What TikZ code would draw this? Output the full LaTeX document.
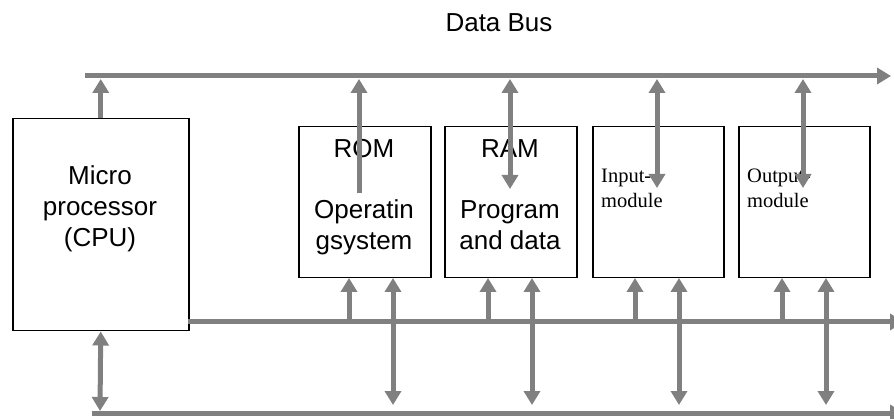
\documentclass[tikz,border=0pt]{standalone}
\usepackage{fontspec}
\setmainfont{Liberation Sans}
\newfontfamily\tnr{Liberation Serif}
\usetikzlibrary{arrows.meta}
\definecolor{busgray}{RGB}{128,128,128}
\begin{document}
\begin{tikzpicture}[x=1pt,y=-1pt,
  box/.style={draw=black,line width=1.5pt,fill=white,inner sep=0pt,anchor=north west},
  lbl/.style={inner sep=0pt,anchor=base,font=\fontsize{26}{31}\selectfont,align=center},
  slbl/.style={inner sep=0pt,anchor=base west,font=\tnr\fontsize{20.5}{25}\selectfont,align=left},
  bus/.style={draw=busgray,line width=5pt},
  tipend/.style={bus,-{Triangle[width=16pt,length=14pt]}},
  tipboth/.style={bus,{Triangle[width=16pt,length=14pt]}-{Triangle[width=16pt,length=14pt]}}]
\clip (0,0) rectangle (894,419);
\fill[white] (0,0) rectangle (894,419);
% boxes
\node[box,minimum width=176pt,minimum height=212pt] (cpu) at (12,118) {};
\node[box,minimum width=132pt,minimum height=151pt] (rom) at (298,126) {};
\node[box,minimum width=132pt,minimum height=151pt] (ram) at (444,126) {};
\node[box,minimum width=131pt,minimum height=151pt] (inm) at (592,126) {};
\node[box,minimum width=131pt,minimum height=151pt] (outm) at (738,126) {};
% labels (base anchor = baseline of the last line)
\node[lbl] (title) at (499,32) {Data Bus};
\node[lbl] (cputxt) at (100,247) {Micro\\processor\\(CPU)};
\node[lbl] (romtxt) at (364,158) {ROM};
\node[lbl] (ostxt) at (364,250) {Operatin\\gsystem};
\node[lbl] (ramtxt) at (510,158) {RAM};
\node[lbl] (pdtxt) at (510,250) {Program\\and data};
\node[slbl] (intxt) at (601,208) {Input-\\module};
\node[slbl] (outtxt) at (747,208) {Output-\\module};
% bus coordinates
\coordinate (dbL) at (85,76);
\coordinate (dbR) at (891,76);
\coordinate (abL) at (188,322);
\coordinate (abR) at (904,322);
\coordinate (cbL) at (92,413);
\coordinate (cbR) at (904,413);
\coordinate (dbtip) at (0,79);
\coordinate (abtip) at (0,322);
\coordinate (cbtip) at (0,405);
% buses
\draw[tipend] (dbL) -- (dbR);
\draw[tipend] (abL) -- (abR);
\draw[tipend] (cbL) -- (cbR);
% data bus connections
\draw[tipend] (cpu.north) -- (cpu.north |- dbtip);
\coordinate (romd) at (359,193);
\draw[tipend] (romd) -- (romd |- dbtip);
\coordinate (ramd) at (510,189);
\draw[tipboth] (ramd) -- (ramd |- dbtip);
\coordinate (ind) at (657,188);
\draw[tipboth] (ind) -- (ind |- dbtip);
\coordinate (outd) at (803,188);
\draw[tipboth] (outd) -- (outd |- dbtip);
% address bus connections
\coordinate (roma) at (349,278);
\draw[tipend] (roma |- abtip) -- (roma);
\coordinate (rama) at (488,278);
\draw[tipend] (rama |- abtip) -- (rama);
\coordinate (ina) at (635,278);
\draw[tipend] (ina |- abtip) -- (ina);
\coordinate (outa) at (782,278);
\draw[tipend] (outa |- abtip) -- (outa);
% control bus connections
\coordinate (cpuc) at (100,411);
\draw[tipboth] (cpu.south) -- (cpuc);
\coordinate (romc) at (393,278);
\draw[tipboth] (romc) -- (romc |- cbtip);
\coordinate (ramc) at (532,278);
\draw[tipboth] (ramc) -- (ramc |- cbtip);
\coordinate (inc) at (679,278);
\draw[tipboth] (inc) -- (inc |- cbtip);
\coordinate (outc) at (826,278);
\draw[tipboth] (outc) -- (outc |- cbtip);
\end{tikzpicture}
\end{document}
